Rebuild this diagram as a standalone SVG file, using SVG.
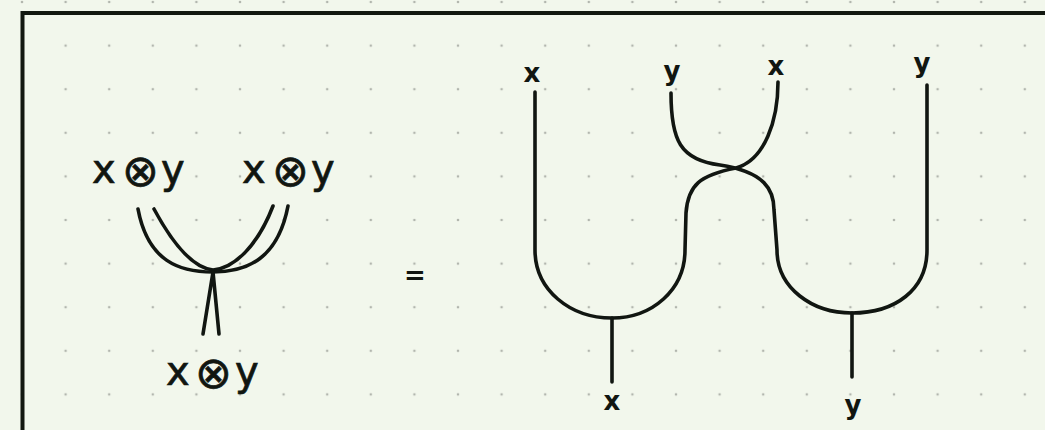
<svg xmlns="http://www.w3.org/2000/svg" width="1045" height="430" viewBox="0 0 1045 430">
<defs>
<pattern id="dots" patternUnits="userSpaceOnUse" x="0.2" y="-19.8" width="43.6" height="43.6">
<circle cx="21.8" cy="21.8" r="1.3" fill="#b2b6ae"/>
</pattern>
<style>
.wire{fill:none;stroke:#111611;stroke-width:3.6;stroke-linecap:round;stroke-linejoin:round}
.big{font-family:"DejaVu Sans",sans-serif;font-size:40px;fill:#111611;stroke:#111611;stroke-width:0.7}
.op{font-size:44px}
.lbl{font-family:"DejaVu Sans",sans-serif;font-size:26px;font-weight:bold;fill:#111611;text-anchor:middle}
</style>
</defs>
<rect width="1045" height="430" fill="#f2f7ec"/>
<rect width="1045" height="430" fill="url(#dots)"/>
<path d="M22.5,432 L22.5,13 L1047,13" fill="none" stroke="#121810" stroke-width="4"/>

<g id="lhs">
<g id="lhs-in1"><text class="big" y="183"><tspan x="92">x</tspan><tspan class="op" x="122" y="186">⊗</tspan><tspan x="161" y="183">y</tspan></text></g>
<g id="lhs-in2"><text class="big" y="183"><tspan x="242">x</tspan><tspan class="op" x="272" y="186">⊗</tspan><tspan x="311" y="183">y</tspan></text></g>
<g id="lhs-out"><text class="big" y="385"><tspan x="166">x</tspan><tspan class="op" x="195" y="388">⊗</tspan><tspan x="235" y="385">y</tspan></text></g>
</g>

<g id="equals"><text class="lbl" x="415" y="284" font-size="36">=</text></g>

<g id="rhs-labels">
<g id="top-x1"><text class="lbl" x="532" y="82">x</text></g>
<g id="top-y1"><text class="lbl" x="672" y="80">y</text></g>
<g id="top-x2"><text class="lbl" x="776" y="75">x</text></g>
<g id="top-y2"><text class="lbl" x="922" y="72">y</text></g>
<g id="bot-x"><text class="lbl" x="612" y="410">x</text></g>
<g id="bot-y"><text class="lbl" x="853" y="414">y</text></g>
</g>

<g id="connectors">
<path class="wire" d="M138,209 C148,262 180,272 213,272 C248,272 278,258 288,206"/>
<path class="wire" d="M154,209 C175,248 195,268 213,270 C235,268 258,245 273,206"/>
<path class="wire" d="M213,272 L203,334 M213,272 L219,334"/>
<path class="wire" d="M535,92 L535,250 C535,290 570,318 612,318 C652,318 685,290 685,250 L686,213 C688,185 700,175 736,168 C765,160 778,120 778,82"/>
<path class="wire" d="M671,93 C671,140 680,160 720,165 C765,172 774,190 774,210 L777,250 C777,288 812,313 852,313 C895,313 927,290 927,250 L927,85"/>
<path class="wire" d="M612,318 L612,382 M852,313 L852,377"/>
</g>
</svg>
